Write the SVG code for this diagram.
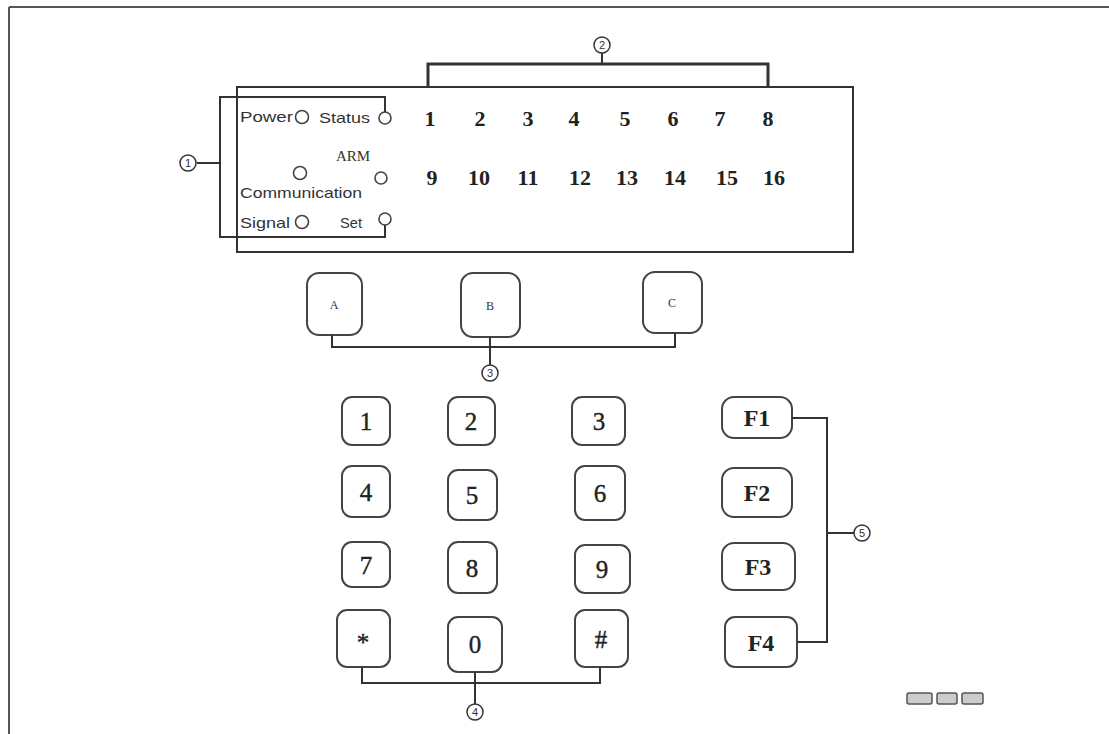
<svg xmlns="http://www.w3.org/2000/svg" width="1109" height="734" viewBox="0 0 1109 734">
<style>
.ln{fill:none;stroke:#333;stroke-width:2}
.key{fill:#fff;stroke:#444;stroke-width:2}
.led{fill:#fff;stroke:#444;stroke-width:1.6}
.lbl{font-family:"Liberation Sans",Arial,sans-serif;font-size:15px;fill:#333}
.arm{font-family:"Liberation Serif","Times New Roman",serif;font-size:15px;fill:#333;text-anchor:middle}
.num{font-family:"Liberation Serif","Times New Roman",serif;font-size:22px;font-weight:bold;fill:#222;text-anchor:middle}
.kt{font-family:"Liberation Serif","Times New Roman",serif;font-size:25px;fill:#222;text-anchor:middle;stroke:#222;stroke-width:0.4}
.ft{font-family:"Liberation Serif","Times New Roman",serif;font-size:24px;font-weight:bold;fill:#222;text-anchor:middle}
.ab{font-family:"Liberation Serif","Times New Roman",serif;font-size:12px;fill:#333;text-anchor:middle}
.cn{fill:#fff;stroke:#333;stroke-width:1.5}
.ct{font-family:"Liberation Sans",Arial,sans-serif;font-size:11px;fill:#333;text-anchor:middle}
</style>
<rect width="1109" height="734" fill="#fff"/>
<g id="frame">
<line x1="9" y1="7" x2="1109" y2="7" stroke="#555" stroke-width="2"/>
<line x1="9" y1="7" x2="9" y2="734" stroke="#555" stroke-width="2"/>
</g>
<g id="display">
<rect x="237" y="87" width="616" height="165" class="ln"/>
<text x="240" y="122" class="lbl" textLength="53" lengthAdjust="spacingAndGlyphs">Power</text>
<circle cx="302" cy="117" r="6.5" class="led"/>
<text x="319" y="123" class="lbl" textLength="51" lengthAdjust="spacingAndGlyphs">Status</text>
<circle cx="385" cy="118" r="6" class="led"/>
<text x="353" y="161" class="arm">ARM</text>
<circle cx="300" cy="173" r="6.5" class="led"/>
<text x="240" y="198" class="lbl" textLength="122" lengthAdjust="spacingAndGlyphs">Communication</text>
<circle cx="381" cy="178" r="6" class="led"/>
<text x="240" y="228" class="lbl" textLength="50" lengthAdjust="spacingAndGlyphs">Signal</text>
<circle cx="302" cy="222" r="6.5" class="led"/>
<text x="340" y="228" class="lbl" textLength="22" lengthAdjust="spacingAndGlyphs">Set</text>
<circle cx="385" cy="219" r="6" class="led"/>
<g class="num">
<text x="430" y="126">1</text><text x="480" y="126">2</text><text x="528" y="126">3</text><text x="574" y="126">4</text>
<text x="625" y="126">5</text><text x="673" y="126">6</text><text x="720" y="126">7</text><text x="768" y="126">8</text>
<text x="432" y="185">9</text><text x="479" y="185">10</text><text x="528" y="185">11</text><text x="580" y="185">12</text>
<text x="627" y="185">13</text><text x="675" y="185">14</text><text x="727" y="185">15</text><text x="774" y="185">16</text>
</g>
</g>
<g id="btnA"><rect x="307" y="273" width="55" height="62" rx="12" class="key"/><text x="334" y="309" class="ab">A</text></g>
<g id="btnB"><rect x="461" y="273" width="59" height="64" rx="12" class="key"/><text x="490" y="310" class="ab">B</text></g>
<g id="btnC"><rect x="643" y="272" width="59" height="61" rx="12" class="key"/><text x="672" y="307" class="ab">C</text></g>
<g id="k1"><rect x="342" y="397" width="48" height="48" rx="10" class="key"/><text x="366" y="430" class="kt">1</text></g>
<g id="k2"><rect x="448" y="397" width="47" height="48" rx="10" class="key"/><text x="471" y="430" class="kt">2</text></g>
<g id="k3"><rect x="572" y="397" width="53" height="48" rx="10" class="key"/><text x="599" y="430" class="kt">3</text></g>
<g id="k4"><rect x="342" y="466" width="48" height="51" rx="10" class="key"/><text x="366" y="501" class="kt">4</text></g>
<g id="k5"><rect x="448" y="470" width="49" height="50" rx="10" class="key"/><text x="472" y="504" class="kt">5</text></g>
<g id="k6"><rect x="575" y="466" width="50" height="54" rx="10" class="key"/><text x="600" y="502" class="kt">6</text></g>
<g id="k7"><rect x="342" y="542" width="48" height="45" rx="10" class="key"/><text x="366" y="574" class="kt">7</text></g>
<g id="k8"><rect x="448" y="542" width="49" height="51" rx="10" class="key"/><text x="472" y="577" class="kt">8</text></g>
<g id="k9"><rect x="575" y="545" width="55" height="48" rx="10" class="key"/><text x="602" y="578" class="kt">9</text></g>
<g id="kstar"><rect x="337" y="610" width="53" height="57" rx="10" class="key"/><text x="363" y="651" class="kt">*</text></g>
<g id="k0"><rect x="448" y="617" width="54" height="55" rx="10" class="key"/><text x="475" y="653" class="kt">0</text></g>
<g id="khash"><rect x="575" y="610" width="53" height="57" rx="10" class="key"/><text x="601" y="648" class="kt">#</text></g>
<g id="F1"><rect x="722" y="397" width="70" height="41" rx="12" class="key"/><text x="757" y="426" class="ft">F1</text></g>
<g id="F2"><rect x="722" y="468" width="70" height="49" rx="12" class="key"/><text x="757" y="501" class="ft">F2</text></g>
<g id="F3"><rect x="722" y="543" width="73" height="47" rx="12" class="key"/><text x="758" y="575" class="ft">F3</text></g>
<g id="F4"><rect x="725" y="617" width="72" height="50" rx="10" class="key" stroke-width="2.5"/><text x="761" y="651" class="ft">F4</text></g>
<g id="indicators" fill="#ccc" stroke="#555" stroke-width="1.5">
<rect x="907" y="693" width="25" height="11" rx="2"/>
<rect x="937" y="693" width="20" height="11" rx="2"/>
<rect x="962" y="693" width="21" height="11" rx="2"/>
</g>
<g id="connectors" class="ln">
<path d="M385 112 V97 H220 V237 H385 V225"/>
<line x1="197" y1="163" x2="220" y2="163"/>
<path d="M428 87 V64 H768 V87" stroke-width="3"/>
<line x1="602" y1="53" x2="602" y2="64"/>
<path d="M332 335 V347 H675 V333"/>
<line x1="490" y1="337" x2="490" y2="365"/>
<path d="M362 667 V683 H600 V667"/>
<line x1="475" y1="672" x2="475" y2="704"/>
<path d="M792 418 H827 V642 H797"/>
<line x1="827" y1="533" x2="854" y2="533"/>
</g>
<g id="label1"><circle cx="188" cy="163" r="8" class="cn"/><text x="188" y="167" class="ct">1</text></g>
<g id="label2"><circle cx="602" cy="45" r="8" class="cn"/><text x="602" y="49" class="ct">2</text></g>
<g id="label3"><circle cx="490" cy="373" r="8" class="cn"/><text x="490" y="377" class="ct">3</text></g>
<g id="label4"><circle cx="475" cy="712" r="8" class="cn"/><text x="475" y="716" class="ct">4</text></g>
<g id="label5"><circle cx="862" cy="533" r="8" class="cn"/><text x="862" y="537" class="ct">5</text></g>
</svg>
